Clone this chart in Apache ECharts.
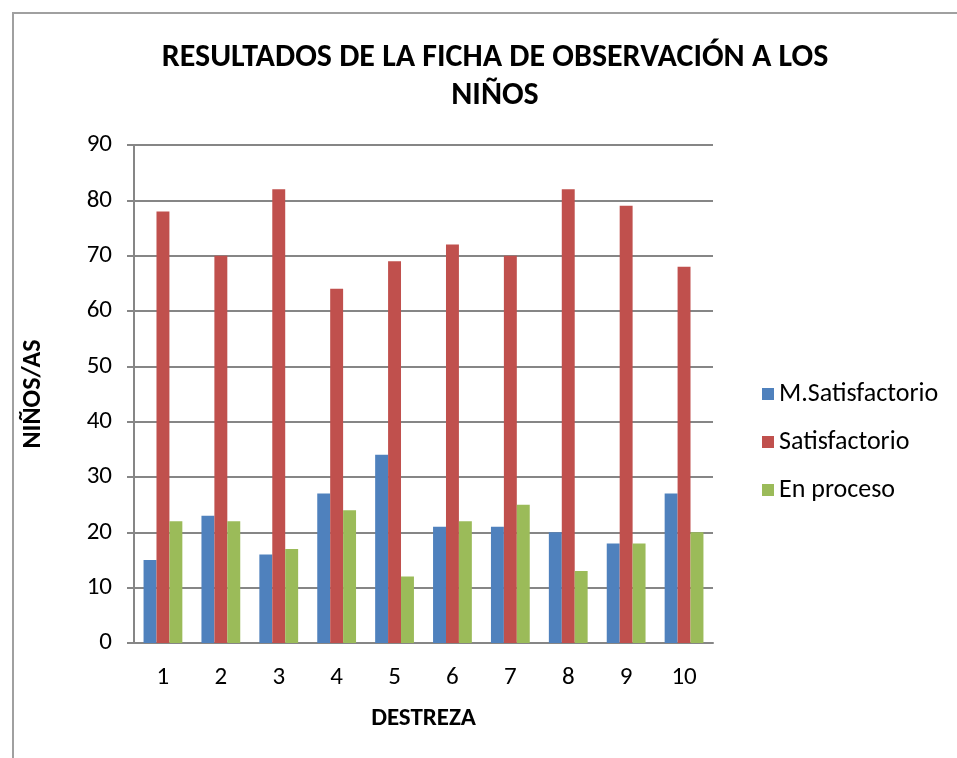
<!DOCTYPE html>
<html><head><meta charset="utf-8">
<script src="https://cdn.jsdelivr.net/npm/echarts@6/dist/echarts.min.js"></script>
<style>html,body{margin:0;padding:0;background:#fff}#frame{position:absolute;left:12px;top:12px;width:960px;height:760px;border:2px solid #a0a0a0;box-sizing:border-box}#c{position:absolute;left:0;top:0;width:957px;height:758px}</style>
</head><body><div id="frame"></div><div id="c"></div>
<script>
var categories = ['1','2','3','4','5','6','7','8','9','10'];
var mSatisfactorio = [15,23,16,27,34,21,21,20,18,27];
var satisfactorio = [78,70,82,64,69,72,70,82,79,68];
var enProceso = [22,22,17,24,12,22,25,13,18,20];
var seriesNames = ['M.Satisfactorio','Satisfactorio','En proceso'];
var FONT = "Carlito, 'Liberation Sans Narrow', 'Open Sans', sans-serif";
var chart = echarts.init(document.getElementById('c'));
chart.setOption({
  animation:false,
  textStyle:{fontFamily:FONT},
  title:{text:'RESULTADOS DE LA FICHA DE OBSERVACIÓN A LOS\nNIÑOS',left:490,top:34,textAlign:'center',
    textStyle:{fontFamily:FONT,fontSize:32,fontWeight:'bold',color:'#000',lineHeight:38}},
  legend:{orient:'vertical',left:757,top:376,itemWidth:12,itemHeight:12,itemGap:22,icon:'rect',
    textStyle:{fontFamily:FONT,fontSize:26,color:'#000',padding:[0,0,0,0]},data:seriesNames},
  grid:{left:134,right:244,top:145,bottom:115,containLabel:false},
  xAxis:{type:'category',data:categories,name:'DESTREZA',nameLocation:'middle',nameGap:63,
    nameTextStyle:{fontFamily:FONT,fontSize:25,fontWeight:'bold',color:'#000'},
    axisLine:{lineStyle:{color:'#868686',width:2}},axisTick:{show:false},
    axisLabel:{fontFamily:FONT,fontSize:25,color:'#000',margin:22}},
  yAxis:{type:'value',min:0,max:90,interval:10,name:'NIÑOS/AS',nameLocation:'middle',nameGap:88,
    nameTextStyle:{fontFamily:FONT,fontSize:26,fontWeight:'bold',color:'#000'},
    axisLine:{show:true,lineStyle:{color:'#868686',width:2}},
    axisTick:{show:true,length:7,lineStyle:{color:'#868686',width:2}},
    splitLine:{lineStyle:{color:'#868686',width:2}},
    axisLabel:{fontFamily:FONT,fontSize:25,color:'#000',margin:22}},
  series:[
    {name:seriesNames[0],type:'bar',data:mSatisfactorio,barGap:'0%',barCategoryGap:'33%',itemStyle:{color:'#4f81bd'}},
    {name:seriesNames[1],type:'bar',data:satisfactorio,barGap:'0%',barCategoryGap:'33%',itemStyle:{color:'#c0504d'}},
    {name:seriesNames[2],type:'bar',data:enProceso,barGap:'0%',barCategoryGap:'33%',itemStyle:{color:'#9bbb59'}}
  ]
});
</script></body></html>
